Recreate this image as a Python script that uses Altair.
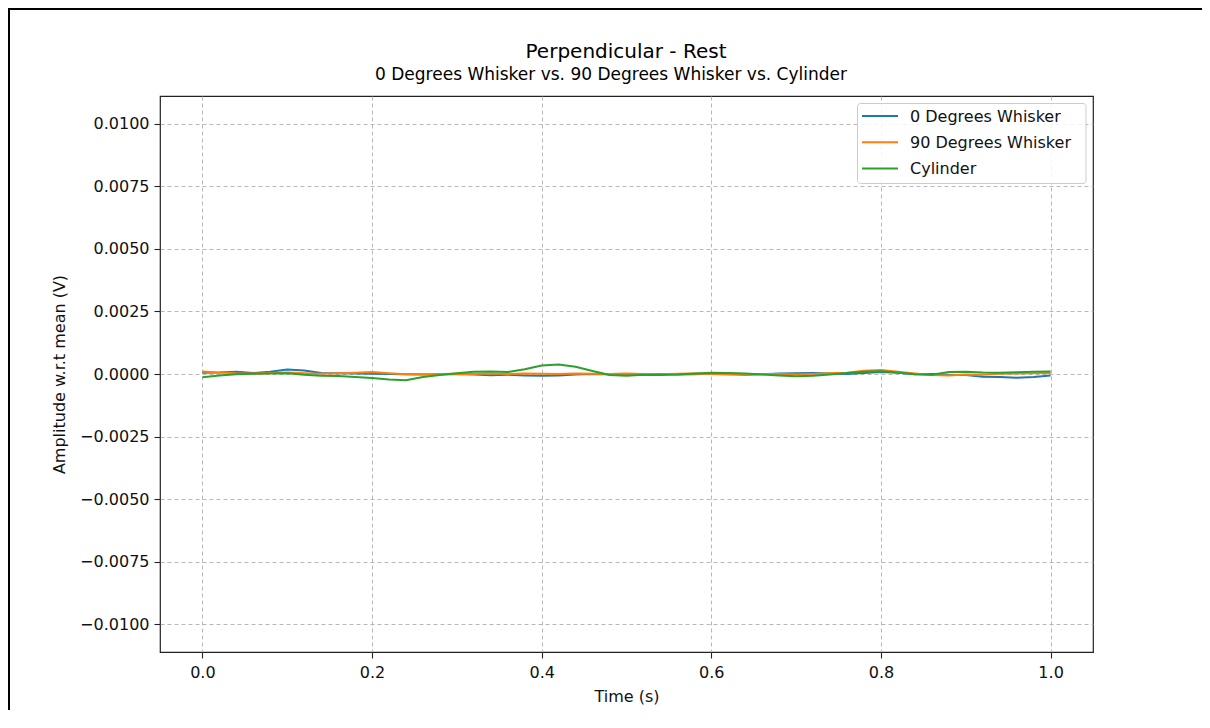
import altair as alt
import pandas as pd

times = [round(i * 0.02, 2) for i in range(51)]
series_names = ["0 Degrees Whisker", "90 Degrees Whisker", "Cylinder"]
series_colors = ["#1f77b4", "#ff7f0e", "#2ca02c"]

whisker_0 = [0.5e-4, 0.6e-4, 0.9e-4, 0.4e-4, 0.9e-4, 1.8e-4, 1.4e-4, 0.4e-4, 0.3e-4, 0.2e-4,
             0.1e-4, 0.0, -0.1e-4, -0.2e-4, -0.1e-4, 0.0, -0.2e-4, -0.5e-4, -0.3e-4, -0.6e-4,
             -0.7e-4, -0.6e-4, -0.2e-4, 0.0, -0.1e-4, -0.3e-4, -0.2e-4, 0.0, -0.2e-4, -0.1e-4,
             0.1e-4, 0.0, -0.3e-4, -0.1e-4, 0.2e-4, 0.3e-4, 0.4e-4, 0.2e-4, 0.0, 0.4e-4,
             0.8e-4, 0.5e-4, -0.1e-4, 0.0, -0.3e-4, -0.4e-4, -1.1e-4, -1.2e-4, -1.5e-4, -1.2e-4,
             -0.6e-4]
whisker_90 = [1.0e-4, 0.6e-4, 0.3e-4, 0.2e-4, 0.4e-4, 0.6e-4, 0.3e-4, 0.1e-4, 0.3e-4, 0.5e-4,
              0.8e-4, 0.3e-4, -0.1e-4, -0.1e-4, 0.0, 0.1e-4, 0.0, 0.2e-4, 0.0, 0.2e-4,
              0.1e-4, 0.0, 0.2e-4, 0.1e-4, 0.0, 0.2e-4, 0.0, -0.1e-4, 0.1e-4, 0.2e-4,
              0.0, -0.2e-4, -0.2e-4, 0.0, 0.0, -0.2e-4, 0.0, 0.3e-4, 0.5e-4, 1.3e-4,
              1.6e-4, 0.9e-4, 0.2e-4, -0.4e-4, -0.6e-4, -0.2e-4, -0.3e-4, 0.1e-4, 0.2e-4, 0.3e-4,
              0.4e-4]
cylinder = [-1.3e-4, -0.6e-4, -0.1e-4, 0.1e-4, 0.2e-4, 0.3e-4, -0.3e-4, -0.7e-4, -0.8e-4, -1.2e-4,
            -1.6e-4, -2.2e-4, -2.5e-4, -1.2e-4, -0.4e-4, 0.3e-4, 0.9e-4, 1.0e-4, 0.8e-4, 1.9e-4,
            3.4e-4, 3.8e-4, 2.9e-4, 1.2e-4, -0.4e-4, -0.7e-4, -0.3e-4, -0.4e-4, -0.2e-4, 0.2e-4,
            0.5e-4, 0.4e-4, 0.2e-4, -0.2e-4, -0.6e-4, -0.9e-4, -0.7e-4, -0.2e-4, 0.4e-4, 0.9e-4,
            1.1e-4, 0.6e-4, -0.1e-4, -0.3e-4, 0.8e-4, 0.9e-4, 0.6e-4, 0.5e-4, 0.7e-4, 0.9e-4,
            1.0e-4]

x_ticks = [0.0, 0.2, 0.4, 0.6, 0.8, 1.0]
y_ticks = [-0.01, -0.0075, -0.005, -0.0025, 0.0, 0.0025, 0.005, 0.0075, 0.01]

title_text = "Perpendicular - Rest"
subtitle_text = "0 Degrees Whisker vs. 90 Degrees Whisker vs. Cylinder"

rows = []
for name, vals in zip(series_names, [whisker_0, whisker_90, cylinder]):
    for t, v in zip(times, vals):
        rows.append({"time": t, "amp": v, "series": name})
df = pd.DataFrame(rows)

FONT = "DejaVu Sans"

lines = alt.Chart(df).mark_line(strokeWidth=2).encode(
    x=alt.X("time:Q", scale=alt.Scale(domain=[-0.05, 1.05], nice=False, zero=False),
            axis=alt.Axis(values=x_ticks, format=".1f", title="Time (s)")),
    y=alt.Y("amp:Q", scale=alt.Scale(domain=[-0.0111, 0.0111], nice=False, zero=False),
            axis=alt.Axis(values=y_ticks, format=".4f", title="Amplitude w.r.t mean (V)")),
    color=alt.Color("series:N", scale=alt.Scale(domain=series_names, range=series_colors),
                    sort=series_names, legend=None),
    order=alt.Order("time:Q"),
)

one = pd.DataFrame({"k": [0]})

# outer figure border (left and top edges only are visible in the reference)
frame_left = alt.Chart(one).mark_rect(color="black", strokeWidth=0).encode(
    x=alt.value(-153), x2=alt.value(-150), y=alt.value(-89), y2=alt.value(720)
)
frame_top = alt.Chart(one).mark_rect(color="black", strokeWidth=0).encode(
    x=alt.value(-153), x2=alt.value(1120), y=alt.value(-89), y2=alt.value(-86)
)

title_mark = alt.Chart(pd.DataFrame({"t": [title_text]})).mark_text(
    font=FONT, fontSize=20, color="black", align="center", baseline="alphabetic"
).encode(text="t:N", x=alt.value(466), y=alt.value(-38))

subtitle_mark = alt.Chart(pd.DataFrame({"t": [subtitle_text]})).mark_text(
    font=FONT, fontSize=17, color="black", align="center", baseline="alphabetic"
).encode(text="t:N", x=alt.value(451), y=alt.value(-16))

# legend box and entries (matplotlib-style, upper right)
legend_box = alt.Chart(one).mark_rect(
    fill="white", fillOpacity=0.85, stroke="#cccccc", strokeWidth=1, cornerRadius=3
).encode(x=alt.value(697.5), x2=alt.value(926), y=alt.value(7.5), y2=alt.value(87.5))

legend_layers = []
for i, (name, col) in enumerate(zip(series_names, series_colors)):
    ry = 20 + i * 26.2
    legend_layers.append(
        alt.Chart(one).mark_rule(color=col, strokeWidth=2).encode(
            x=alt.value(702), x2=alt.value(738), y=alt.value(ry), y2=alt.value(ry)
        )
    )
    legend_layers.append(
        alt.Chart(pd.DataFrame({"t": [name]})).mark_text(
            font=FONT, fontSize=16, color="#111111", align="left", baseline="middle"
        ).encode(text="t:N", x=alt.value(750), y=alt.value(ry + 0.5))
    )

chart = alt.layer(
    lines, frame_left, frame_top, title_mark, subtitle_mark, legend_box, *legend_layers
).properties(
    width=933,
    height=556,
    autosize=alt.AutoSizeParams(type="none"),
    padding={"left": 152, "top": 88, "right": 109, "bottom": 58},
).configure_view(
    stroke="#222222", strokeWidth=1.2
).configure_axis(
    domain=False, grid=True, gridColor="#b0b0b0", gridDash=[4, 3], gridWidth=0.9,
    tickColor="#222222", tickSize=6, tickWidth=1.1,
    labelFont=FONT, labelFontSize=16, labelColor="#111111",
    titleFont=FONT, titleFontSize=16, titleFontWeight="normal", titleColor="#111111",
).configure_axisX(
    labelPadding=6, titlePadding=8
).configure_axisY(
    labelPadding=5, titlePadding=12
)

chart.save("out.html", embed_options={"renderer": "svg", "actions": False})
